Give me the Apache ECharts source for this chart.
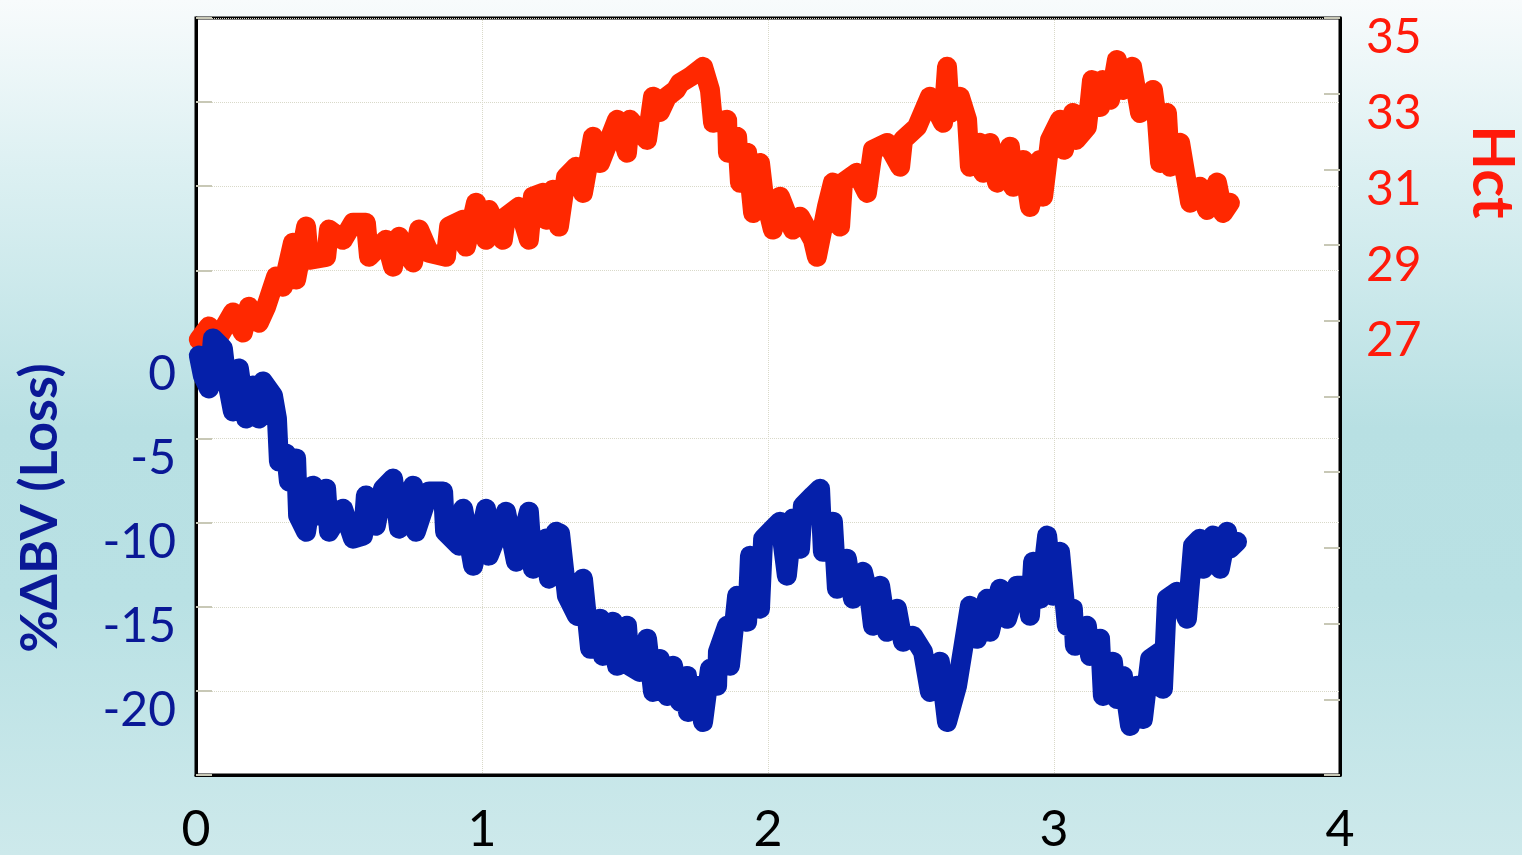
<!DOCTYPE html>
<html>
<head>
<meta charset="utf-8">
<script src="https://cdn.jsdelivr.net/npm/echarts@6/dist/echarts.min.js"></script>
<style>
html,body{margin:0;padding:0;}
#c{width:1522px;height:855px;background:linear-gradient(to bottom,#f8fbfc 0%,#dcf0f2 20%,#b8e0e3 50%,#b9e1e4 70%,#cde9eb 100%);}
</style>
</head>
<body>
<div id="c"></div>
<script>
// Time axis (x) values
var xTicks = [0, 1, 2, 3, 4];
var bvTickLabels = [0, -5, -10, -15, -20];
var hctTickLabels = [35, 33, 31, 29, 27];

// Hct series (right axis)
var hctX = [0.010,0.045,0.080,0.129,0.164,0.185,0.220,0.245,0.280,0.304,0.339,0.350,0.385,0.395,0.455,0.465,0.514,0.549,0.594,0.605,0.664,0.689,0.710,0.759,0.780,0.815,0.874,0.885,0.934,0.944,0.979,1.014,1.024,1.073,1.084,1.129,1.164,1.178,1.213,1.224,1.248,1.269,1.294,1.329,1.353,1.388,1.413,1.472,1.507,1.517,1.577,1.598,1.622,1.647,1.678,1.692,1.727,1.773,1.797,1.808,1.857,1.860,1.892,1.902,1.927,1.948,1.972,1.983,2.017,2.042,2.087,2.112,2.157,2.171,2.206,2.227,2.252,2.262,2.311,2.346,2.367,2.416,2.462,2.472,2.521,2.566,2.612,2.626,2.636,2.671,2.696,2.706,2.741,2.752,2.776,2.801,2.846,2.857,2.892,2.916,2.951,2.962,2.986,3.021,3.035,3.066,3.077,3.115,3.126,3.133,3.161,3.171,3.196,3.220,3.241,3.273,3.301,3.346,3.360,3.371,3.395,3.406,3.441,3.476,3.510,3.535,3.570,3.591,3.615];
var hctY = [26.50,26.85,26.58,27.22,26.69,27.37,26.95,27.37,28.17,27.90,29.06,28.09,29.49,28.61,28.69,29.41,29.14,29.59,29.59,28.69,29.14,28.43,29.22,28.54,29.41,28.80,28.69,29.49,29.67,28.96,30.12,29.14,29.93,29.14,29.75,30.01,29.14,30.28,30.38,29.67,30.46,29.49,30.80,31.07,30.38,31.86,31.17,32.31,31.44,32.31,31.78,32.92,32.52,32.92,33.10,33.28,33.44,33.71,33.10,32.23,32.31,31.44,31.86,30.65,31.44,29.85,31.17,30.46,29.41,30.28,29.41,29.75,29.14,28.69,30.01,30.65,29.49,30.65,30.91,30.38,31.52,31.70,31.07,31.78,32.12,32.92,32.23,33.71,32.49,32.92,32.31,31.07,31.70,30.91,31.70,30.65,31.60,30.54,31.25,30.01,31.25,30.28,31.78,32.31,31.52,32.49,31.78,32.12,32.84,33.36,32.65,33.36,32.84,33.89,33.10,33.71,32.49,33.10,32.31,31.17,32.49,31.07,31.70,30.12,30.54,29.93,30.65,29.85,30.12];

// %ΔBV series (left axis)
var bvX = [0.010,0.024,0.045,0.059,0.094,0.105,0.129,0.150,0.175,0.199,0.220,0.234,0.269,0.283,0.290,0.315,0.325,0.350,0.357,0.385,0.409,0.430,0.455,0.465,0.514,0.549,0.584,0.594,0.629,0.654,0.689,0.710,0.759,0.769,0.815,0.864,0.871,0.920,0.934,0.969,1.014,1.024,1.084,1.119,1.164,1.178,1.224,1.234,1.259,1.273,1.297,1.332,1.353,1.378,1.413,1.423,1.458,1.472,1.507,1.517,1.552,1.577,1.598,1.622,1.647,1.668,1.692,1.717,1.720,1.752,1.773,1.797,1.822,1.825,1.857,1.867,1.892,1.927,1.937,1.972,1.983,2.017,2.042,2.066,2.087,2.112,2.122,2.157,2.182,2.192,2.227,2.241,2.276,2.297,2.332,2.357,2.367,2.392,2.416,2.451,2.472,2.507,2.542,2.566,2.601,2.626,2.661,2.682,2.706,2.731,2.766,2.776,2.811,2.836,2.871,2.906,2.916,2.927,2.951,2.976,2.997,3.021,3.045,3.066,3.073,3.115,3.126,3.161,3.171,3.206,3.220,3.241,3.266,3.290,3.311,3.336,3.371,3.381,3.395,3.430,3.465,3.486,3.510,3.521,3.556,3.580,3.605,3.615,3.640];
var bvY = [-0.06,-1.25,-2.02,0.95,0.36,-1.25,-3.39,-0.83,-3.81,-1.85,-3.81,-1.61,-2.44,-3.81,-6.37,-5.89,-7.56,-6.19,-9.58,-10.54,-7.80,-9.58,-7.98,-10.54,-9.17,-10.95,-10.77,-8.39,-10.18,-7.98,-7.38,-10.36,-7.80,-10.54,-8.15,-8.15,-10.54,-11.37,-9.17,-12.56,-9.17,-11.96,-9.35,-12.32,-9.35,-12.74,-10.95,-13.33,-10.54,-10.65,-14.35,-15.54,-13.33,-17.50,-15.71,-17.92,-15.89,-18.51,-16.13,-18.51,-18.87,-16.90,-20.06,-18.10,-20.30,-18.51,-20.65,-19.11,-21.25,-19.70,-21.85,-18.69,-19.70,-17.68,-16.13,-18.51,-14.35,-15.89,-11.96,-15.12,-10.95,-10.36,-9.94,-13.15,-9.76,-11.55,-8.99,-8.39,-7.98,-11.73,-9.94,-13.93,-12.14,-14.52,-12.92,-14.70,-16.13,-13.75,-16.49,-15.12,-17.08,-16.73,-17.68,-20.06,-18.27,-21.85,-19.70,-17.50,-14.94,-16.90,-14.52,-16.49,-13.93,-15.71,-13.75,-13.75,-15.54,-12.32,-14.52,-10.77,-14.35,-11.73,-16.13,-15.12,-17.32,-16.13,-17.92,-16.90,-20.30,-18.27,-20.48,-19.11,-22.08,-19.70,-21.67,-18.10,-17.68,-19.88,-14.52,-14.11,-15.71,-11.37,-10.95,-12.74,-10.77,-12.74,-10.54,-11.55,-11.13];

function pairs(xs, ys){ return xs.map(function(x,i){ return [x, ys[i]]; }); }

var GRID = '#d9d9c9';
var FONT = 'Lato, "Open Sans", sans-serif';
var chart = echarts.init(document.getElementById('c'), null, {renderer:'canvas'});
chart.setOption({
  animation: false,
  backgroundColor: 'transparent',
  grid: {left:196, right:182, top:18, bottom:79, show:true, backgroundColor:'#ffffff', borderColor:'#000', borderWidth:3, containLabel:false},
  xAxis: {
    type:'value', min:xTicks[0], max:xTicks[xTicks.length-1], interval:1,
    axisLine:{show:true, onZero:false, lineStyle:{color:'#000', width:3}},
    axisTick:{show:false},
    splitLine:{show:true, lineStyle:{color:GRID, type:'dotted', width:1}},
    axisLabel:{color:'#000', fontSize:50, fontFamily:FONT, margin:30,
      formatter:function(v){ return xTicks.indexOf(v) >= 0 ? String(v) : ''; }}
  },
  yAxis: [
    {
      type:'value', position:'left', min:-25, max:20, interval:5,
      axisLine:{show:true, onZero:false, lineStyle:{color:'#000', width:3}},
      axisTick:{show:true, inside:true, length:16, lineStyle:{color:'#c8c8b6', width:2}},
      splitLine:{show:true, lineStyle:{color:[GRID,GRID,GRID,GRID,GRID,'rgba(0,0,0,0)',GRID,GRID,GRID,GRID], type:'dotted', width:1}},
      axisLabel:{color:'#0a1896', fontSize:48, fontFamily:FONT, margin:20, verticalAlign:'top', lineHeight:40,
        formatter:function(v){ return bvTickLabels.indexOf(v) >= 0 ? String(v) : ''; }}
    },
    {
      type:'value', position:'right', min:15, max:35, interval:2,
      axisLine:{show:true, onZero:false, lineStyle:{color:'#000', width:3}},
      axisTick:{show:true, inside:true, length:16, lineStyle:{color:'#c8c8b6', width:2}},
      splitLine:{show:false},
      axisLabel:{color:'#ff1a0a', fontSize:48, fontFamily:FONT, margin:26, verticalAlign:'top', lineHeight:40,
        formatter:function(v){ return hctTickLabels.indexOf(v) >= 0 ? String(v) : ''; }}
    }
  ],
  graphic: [
    {type:'text', x:40, y:508, rotation:Math.PI/2,
      style:{text:'%ΔBV (Loss)', fill:'#0a1896', font:'bold 52px ' + FONT, align:'center', verticalAlign:'middle'}},
    {type:'text', x:1492, y:172, rotation:-Math.PI/2,
      style:{text:'Hct', fill:'#ff1a0a', font:'bold 58px ' + FONT, align:'center', verticalAlign:'middle'}}
  ],
  series: [
    {type:'line', name:'Hct', yAxisIndex:1, data:pairs(hctX, hctY), showSymbol:false,
      lineStyle:{color:'#ff2800', width:20, cap:'round', join:'round'}, z:2},
    {type:'line', name:'%ΔBV', yAxisIndex:0, data:pairs(bvX, bvY), showSymbol:false,
      lineStyle:{color:'#0520aa', width:20, cap:'round', join:'round'}, z:3}
  ]
});
</script>
</body>
</html>
